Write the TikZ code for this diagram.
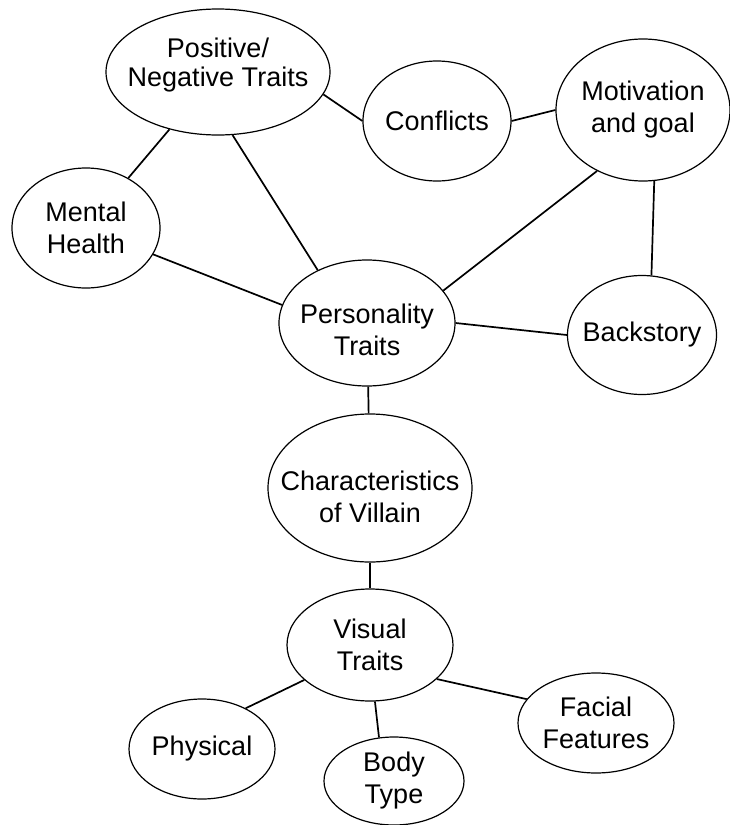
\documentclass[tikz,border=0pt]{standalone}
\usepackage{fontspec}
\setmainfont{Liberation Sans}
\usetikzlibrary{shapes.geometric}

\begin{document}
\begin{tikzpicture}[x=1pt,y=-1pt,
  font=\fontsize{27}{32}\selectfont,
  bubble/.style={ellipse,draw,line width=1.2pt,inner sep=0pt},
  link/.style={line width=1.7pt}]
\useasboundingbox (0,0) rectangle (729,825);
\node[bubble,minimum width=224pt,minimum height=126pt,label={[align=center,yshift=7pt,font=\fontsize{27}{29}\selectfont]center:Positive/\\Negative Traits}] (pn) at (218,72) {};
\node[bubble,minimum width=148pt,minimum height=120pt,label={center:Conflicts}] (conf) at (437,121) {};
\node[bubble,minimum width=174pt,minimum height=142pt,label={[align=center]center:Motivation\\and goal}] (mot) at (643,110) {};
\node[bubble,minimum width=148pt,minimum height=120pt,label={[align=center]center:Mental\\Health}] (mh) at (86,228) {};
\node[bubble,minimum width=176pt,minimum height=126pt,label={[align=center,yshift=-7pt]center:Personality\\Traits}] (pers) at (367,323) {};
\node[bubble,minimum width=149pt,minimum height=119pt,label={center:Backstory}] (back) at (642,335) {};
\node[bubble,minimum width=204pt,minimum height=148pt,label={[align=center,yshift=-9pt]center:Characteristics\\of Villain}] (char) at (370,488) {};
\node[bubble,minimum width=166pt,minimum height=112pt,label={[align=center]center:Visual\\Traits}] (vis) at (370,645) {};
\node[bubble,minimum width=146pt,minimum height=100pt,label={center:Physical}] (phys) at (202,749) {};
\node[bubble,minimum width=140pt,minimum height=88pt,label={[align=center]center:Body\\Type}] (body) at (394,781) {};
\node[bubble,minimum width=156pt,minimum height=100pt,label={[align=center]center:Facial\\Features}] (face) at (596,723) {};
\draw[link] (pn.-12) -- (conf.west);
\draw[link] (conf.east) -- (mot.west);
\draw[link] (pn) -- (mh);
\draw[link] (pn.-77) -- (pers.133);
\draw[link] (mh) -- (pers.168);
\draw[link] (mot.233) -- (pers.23);
\draw[link] (mot.-81) -- (back.81);
\draw[link] (pers.east) -- (back.west);
\draw[link] (pers) -- (char);
\draw[link] (char) -- (vis);
\draw[link] (vis.208) -- (phys.43);
\draw[link] (vis.-85) -- (body.109);
\draw[link] (vis.-27) -- (face.161);
\end{tikzpicture}
\end{document}
